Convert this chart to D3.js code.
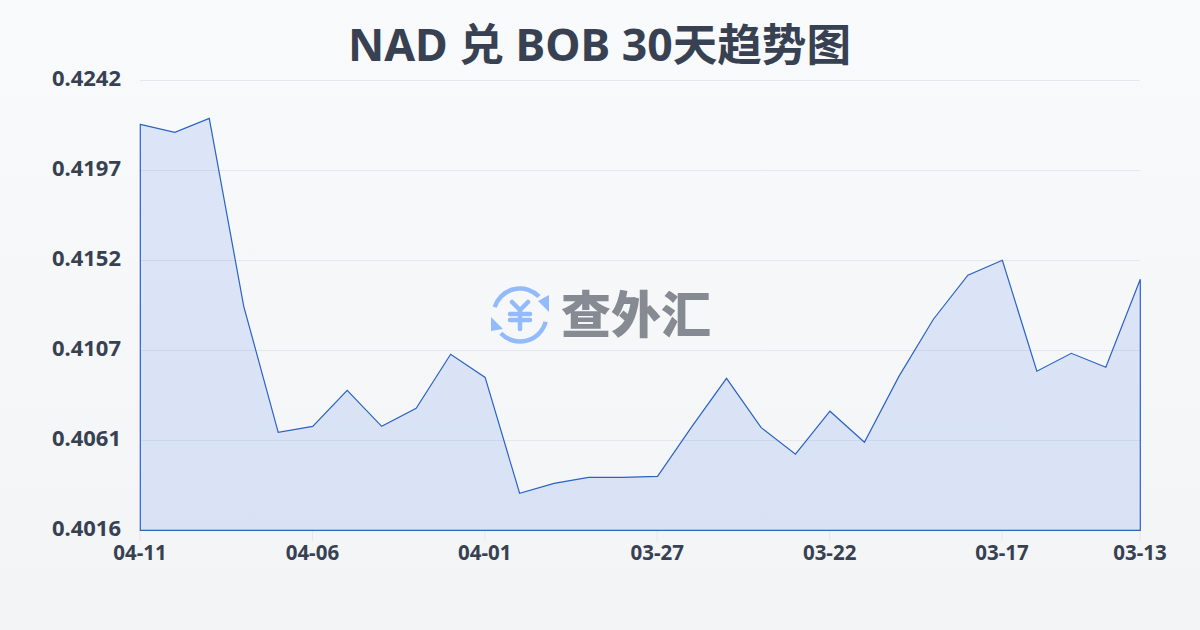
<!DOCTYPE html>
<html><head><meta charset="utf-8">
<script src="https://cdn.jsdelivr.net/npm/d3@7"></script>
<style>html,body{margin:0;padding:0;width:1200px;height:630px;overflow:hidden}svg{display:block}
text{font-family:"Noto Sans","Noto Sans CJK SC",sans-serif}</style></head><body>
<svg id="c" width="1200" height="630"></svg>
<script>
const titleText = "NAD 兑 BOB 30天趋势图";
const watermarkText = "查外汇";
const dates = ["04-11","04-10","04-09","04-08","04-07","04-06","04-05","04-04","04-03","04-02","04-01","03-31","03-30","03-29","03-28","03-27","03-26","03-25","03-24","03-23","03-22","03-21","03-20","03-19","03-18","03-17","03-16","03-15","03-14","03-13"];
const rates = [0.42199,0.42159,0.42229,0.41285,0.40652,0.40682,0.40863,0.40682,0.40773,0.41044,0.40928,0.40346,0.40396,0.40426,0.40426,0.40431,0.40682,0.40923,0.40677,0.40542,0.40758,0.40602,0.40933,0.4122,0.41441,0.41516,0.40959,0.41049,0.40979,0.41421];
const xTickLabels = ["04-11","04-06","04-01","03-27","03-22","03-17","03-13"];
const yTickLabels = ["0.4016","0.4061","0.4107","0.4152","0.4197","0.4242"];
const yMin = 0.4016, yMax = 0.4242;

const svg = d3.select("#c");
const defs = svg.append("defs");
const bg = defs.append("linearGradient").attr("id","bg").attr("x1",0).attr("y1",0).attr("x2",0).attr("y2",1);
bg.append("stop").attr("offset",0).attr("stop-color","#f8fafc");
bg.append("stop").attr("offset",1).attr("stop-color","#f3f4f6");
svg.append("rect").attr("width",1200).attr("height",630).attr("fill","url(#bg)");

const x = d3.scalePoint().domain(dates).range([140,1140]);
const y = d3.scaleLinear().domain([yMin,yMax]).range([530,80]);
const gridY = i => 530 - i*90;

// grid
svg.append("g").selectAll("line").data(yTickLabels).join("line")
  .attr("x1",140).attr("x2",1140)
  .attr("y1",(d,i)=>gridY(i)+.5).attr("y2",(d,i)=>gridY(i)+.5)
  .attr("stroke","#e5e7eb").attr("stroke-width",1);

// y labels
svg.append("g").selectAll("text").data(yTickLabels).join("text")
  .attr("x",121).attr("y",(d,i)=>gridY(i)+6)
  .attr("text-anchor","end").attr("font-size",22).attr("font-weight",700).attr("fill","#374151")
  .text(d=>d);

// x ticks
svg.append("g").selectAll("line").data(xTickLabels).join("line")
  .attr("x1",d=>x(d)).attr("x2",d=>x(d)).attr("y1",530).attr("y2",541)
  .attr("stroke","#e5e7eb");
svg.append("g").selectAll("text").data(xTickLabels).join("text")
  .attr("x",d=>x(d)).attr("y",560).attr("text-anchor","middle")
  .attr("font-size",20.5).attr("font-weight",700).attr("fill","#374151").text(d=>d);

// area
const area = d3.area().x((d,i)=>x(dates[i])).y0(530).y1(d=>y(d));
svg.append("g").attr("transform","translate(0.3,0.3)").append("path").attr("d",area(rates)+"Z")
  .attr("fill","#2563eb").attr("fill-opacity",0.13)
  .attr("stroke","#2b62c4").attr("stroke-width",1.2);

// watermark
const g = svg.append("g");
g.append("text").attr("x",636).attr("y",333).attr("text-anchor","middle")
  .attr("font-size",50).attr("font-weight",900).attr("fill","#868a92")
  .attr("font-family",'"Noto Sans CJK SC"').text(watermarkText);
const ic = g.append("g").attr("transform","translate(520,315)").attr("fill","none")
  .attr("stroke","#93bbfb").attr("stroke-width",4.5).attr("stroke-linecap","round");
ic.append("path").attr("d",d3.arc()({innerRadius:26.5,outerRadius:26.5,startAngle:-1.27,endAngle:0.8}));
ic.append("path").attr("d",d3.arc()({innerRadius:26.5,outerRadius:26.5,startAngle:1.83,endAngle:3.95}));
ic.append("path").attr("fill","#93bbfb").attr("stroke","none").attr("d","M29,-20 L29,-3 L18,-14 Z");
ic.append("path").attr("fill","#93bbfb").attr("stroke","none").attr("d","M-29,2 L-29,16 L-17,14 Z");
ic.append("path").attr("d","M-8,-13 L0,-5 L8,-13 M-10,-1 L10,-1 M-10,5 L10,5 M0,-5 L0,14");

// title
svg.append("text").attr("x",599.5).attr("y",60.5).attr("text-anchor","middle")
  .attr("font-size",44.6).attr("font-weight",700).attr("fill","#374151")
  .attr("font-family",'"Noto Sans","Noto Sans CJK SC"').text(titleText);
</script></body></html>
